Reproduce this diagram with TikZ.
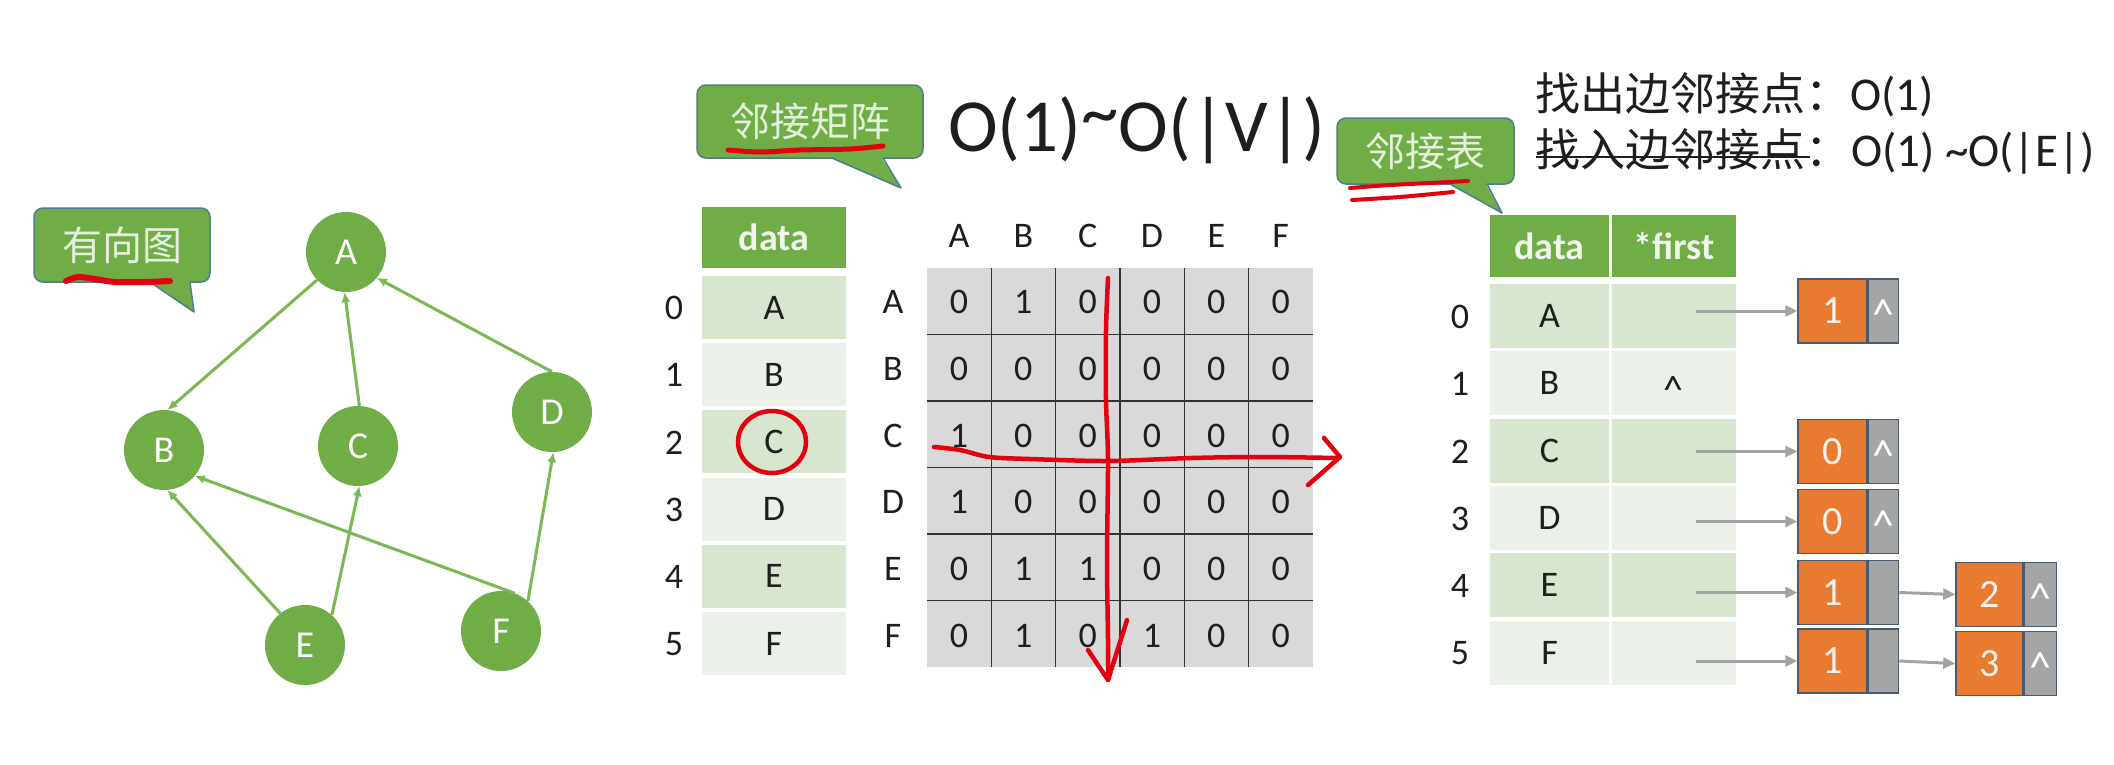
\documentclass[tikz,border=0pt]{standalone}
\usepackage{fontspec}
\usepackage{graphicx}
\setmainfont{Carlito}
\newfontfamily\cjk{Noto Sans CJK SC}
\usetikzlibrary{arrows.meta,calc}
\newcommand\myfs[1]{\fontsize{#1}{#1}\selectfont}
\definecolor{gr}{HTML}{70AD47}
\definecolor{gedgec}{HTML}{7AB853}
\definecolor{rowA}{HTML}{D8E6D0}
\definecolor{rowB}{HTML}{EBF0E8}
\definecolor{cellgray}{HTML}{D9D9D9}
\definecolor{gridc}{HTML}{333333}
\definecolor{org}{HTML}{E97A31}
\definecolor{ngray}{HTML}{A5A5A5}
\definecolor{nb}{HTML}{4A5A6E}
\definecolor{calb}{HTML}{4E7D8C}
\definecolor{calt}{HTML}{E4F0DC}
\definecolor{hdrt}{HTML}{F0F7EA}
\definecolor{penred}{HTML}{E3000F}
\definecolor{arrc}{HTML}{A3A3A3}
\definecolor{txt}{HTML}{1E1E1E}
\definecolor{ot}{HTML}{FDF1E7}
\begin{document}
\begin{tikzpicture}[x=1pt,y=-1pt,
  gnode/.style={circle,fill=gr,minimum size=80pt,inner sep=0pt,text=white,font=\myfs{38}},
  gedge/.style={draw=gedgec,line width=3pt,-{Latex[length=10pt,width=9pt]}},
  calbox/.style={rectangle,rounded corners=9pt,fill=gr,draw=calb,line width=1.5pt,text=calt,font=\cjk\myfs{40},inner sep=0pt},
  calledge/.style={draw=calb,line width=1.5pt,line join=round},
  pen/.style={draw=penred,line width=4.5pt,line cap=round,line join=round},
  lbl/.style={font=\myfs{36},text=txt,inner sep=0pt},
  hdr/.style={rectangle,fill=gr,inner sep=0pt,text=hdrt,font=\bfseries\myfs{38}},
  rowcell/.style={rectangle,inner sep=0pt,font=\myfs{36},text=txt},
  gline/.style={draw=gridc,line width=1.5pt},
  onode/.style={rectangle,fill=org,draw=nb,line width=1.5pt,inner sep=0pt,minimum height=64pt,text=ot,font=\myfs{40}},
  pnode/.style={rectangle,fill=ngray,draw=nb,line width=1.5pt,inner sep=0pt,minimum height=64pt},
  caret/.style={anchor=base,inner sep=0pt,text=white,font=\myfs{44}},
  garrow/.style={draw=arrc,line width=3pt,-{Triangle[length=12pt,width=11pt]}},
]
\fill[white] (0,0) rectangle (2114,764);
\useasboundingbox (0,0) rectangle (2114,764);

% ---------- directed graph ----------
\node[gnode] (A) at (346,252) {A};
\node[gnode] (B) at (164,450) {B};
\node[gnode] (C) at (358,446) {C};
\node[gnode] (D) at (552,412) {D};
\node[gnode] (E) at (305,645) {E};
\node[gnode] (F) at (501,631) {F};
\draw[gedge] (A.224) -- (B.85);
\draw[gedge] (C.88) -- (A.268);
\draw[gedge] (D.90) -- (A.-40);
\draw[gedge] (E.128) -- (B.-85);
\draw[gedge] (E.48) -- (C.-88);
\draw[gedge] (F.70) -- (B.-40);
\draw[gedge] (F.48) -- (D.-88);

% ---------- callouts ----------
\node[calbox,minimum width=176pt,minimum height=74pt] (cb1) at (122,245) {有向图};
\fill[gr] (150.5,279) -- (151.5,283.5) -- (194,312) -- (189.5,283.5) -- (189.5,279) -- cycle;
\draw[calledge] (150,282) -- (194,312) -- (190,282);

\node[calbox,minimum width=226pt,minimum height=73pt] (cb2) at (810,121.5) {邻接矩阵};
\fill[gr] (832.5,155) -- (833.5,159.5) -- (901,188) -- (882.5,159.5) -- (882.5,155) -- cycle;
\draw[calledge] (832,158) -- (901,188) -- (883,158);

\node[calbox,minimum width=177pt,minimum height=66pt] (cb3) at (1425.5,151) {邻接表};
\fill[gr] (1450.5,181) -- (1451.5,185.5) -- (1502,213) -- (1486.5,185.5) -- (1486.5,181) -- cycle;
\draw[calledge] (1450,184) -- (1502,213) -- (1487,184);

% red underlines
\draw[pen,line width=6pt] plot[smooth] coordinates {(66,281) (78,277) (95,279) (115,282) (145,282) (170,281)};
\draw[pen,line width=5pt] plot[smooth] coordinates {(728,150) (760,152) (800,150) (850,149) (883,146)};
\draw[pen,line width=4pt] plot[smooth] coordinates {(1350,188) (1390,185) (1430,183) (1468,181)};
\draw[pen,line width=4pt] plot[smooth] coordinates {(1352,200) (1400,197) (1453,192)};

% ---------- complexity texts ----------
\node[anchor=base west,inner sep=0pt,font=\myfs{75},text=txt] (big) at (948,151) {O(1)\raisebox{0.18em}{\textasciitilde}O(|V|)};
\node[anchor=base west,inner sep=0pt,font=\cjk\myfs{45},text=txt] (t1a) at (1535,110) {找出边邻接点：};
\node[anchor=base west,inner sep=0pt,font=\myfs{47},text=txt] (t1b) at (t1a.base east) {O(1)};
\node[anchor=base west,inner sep=0pt,font=\cjk\myfs{45},text=txt] (t2a) at (1535,166) {找入边邻接点};
\node[anchor=base west,inner sep=0pt,font=\cjk\myfs{45},text=txt] (t2b) at (t2a.base east) {：};
\node[anchor=base west,inner sep=0pt,font=\myfs{47},text=txt] (t2c) at (t2b.base east) {O(1) \textasciitilde O(|E|)};
\draw[txt,line width=2pt] ($(t2a.base west)+(1,-9)$) -- ($(t2a.base east)+(5,-9)$);

% ---------- vertex array (matrix side) ----------
\node[hdr,minimum width=144pt,minimum height=61pt] (dh) at (774,237.5) {data};
\foreach \r/\l/\c in {0/A/rowA,1/B/rowB,2/C/rowA,3/D/rowB,4/E/rowA,5/F/rowB} {
  \node[rowcell,fill=\c,minimum width=144pt,minimum height=63pt] (d\r) at (774,{307.5+67.2*\r}) {\l};
  \node[lbl] (i\r) at (674,{308+67.2*\r}) {\r};
}

% ---------- adjacency matrix ----------
\fill[cellgray] (927,268) rectangle (1313,667);
\foreach \k in {1,...,5} {
  \draw[gline] ({927+64.33*\k},268) -- ({927+64.33*\k},667);
  \draw[gline] (927,{268+66.5*\k}) -- (1313,{268+66.5*\k});
}
\foreach \h [count=\c from 0] in {A,B,C,D,E,F}
  \node[lbl] (h\c) at ({959+64.33*\c},236) {\h};
\foreach \r/\rl/\vals in {0/A/{0,1,0,0,0,0},1/B/{0,0,0,0,0,0},2/C/{1,0,0,0,0,0},3/D/{1,0,0,0,0,0},4/E/{0,1,1,0,0,0},5/F/{0,1,0,1,0,0}} {
  \node[lbl] (r\r) at (893,{302+66.75*\r}) {\rl};
  \foreach \v [count=\c from 0] in \vals
    \node[lbl] (m\r\c) at ({959+64.33*\c},{302+66.75*\r}) {\v};
}

% red marks on matrix
\draw[pen] (772,442) ellipse [x radius=34, y radius=31];
\draw[pen] plot[smooth] coordinates {(1108,278) (1106,330) (1106,400) (1108,460) (1107,560) (1108,640) (1108,680)};
\draw[pen] (1088,650) -- (1108,680) -- (1127,620);
\draw[pen] plot[smooth] coordinates {(934,447) (960,450) (989,457) (1030,459) (1108,461) (1191,458) (1260,457) (1338,458)};
\draw[pen] (1324,438) -- (1340,457) -- (1308,485);

% ---------- adjacency list ----------
\node[hdr,minimum width=119pt,minimum height=62pt] (ah1) at (1549.5,246) {data};
\node[hdr,minimum width=124pt,minimum height=62pt] (ah2) at (1674,246) {*first};
\foreach \r/\l/\c in {0/A/rowA,1/B/rowB,2/C/rowA,3/D/rowB,4/E/rowA,5/F/rowB} {
  \node[rowcell,fill=\c,minimum width=119pt,minimum height=64pt] (a\r) at (1549.5,{316+67.3*\r}) {\l};
  \node[rowcell,fill=\c,minimum width=124pt,minimum height=64pt] (f\r) at (1674,{316+67.3*\r}) {};
  \node[lbl] (j\r) at (1460,{317+67.3*\r}) {\r};
}
\node[caret,text=txt,font=\myfs{40}] (fb) at (1673,403) {\textasciicircum};

\foreach \r/\v/\y in {0/1/311,2/0/451.5,3/0/521.5,4/1/592.5,5/1/661} {
  \node[onode,minimum width=69pt] (n\r) at (1832.5,\y) {\v};
  \node[pnode,minimum width=30pt,anchor=west] (p\r) at (n\r.east) {};
  \coordinate (s\r) at (1696,\y);
  \draw[garrow] (s\r) -- (n\r.west);
}
\node[onode,minimum width=67pt] (q4) at (1989.5,594.5) {2};
\node[pnode,minimum width=32pt,anchor=west] (u4) at (q4.east) {};
\node[onode,minimum width=67pt] (q5) at (1989.5,663.5) {3};
\node[pnode,minimum width=32pt,anchor=west] (u5) at (q5.east) {};
\draw[garrow] (p4.east) -- (q4.west);
\draw[garrow] (p5.east) -- (q5.west);
\foreach \p in {p0,p2,p3,u4,u5}
  \node[caret] at ($(\p.north)+(0,51.5)$) {\textasciicircum};
\end{tikzpicture}
\end{document}
